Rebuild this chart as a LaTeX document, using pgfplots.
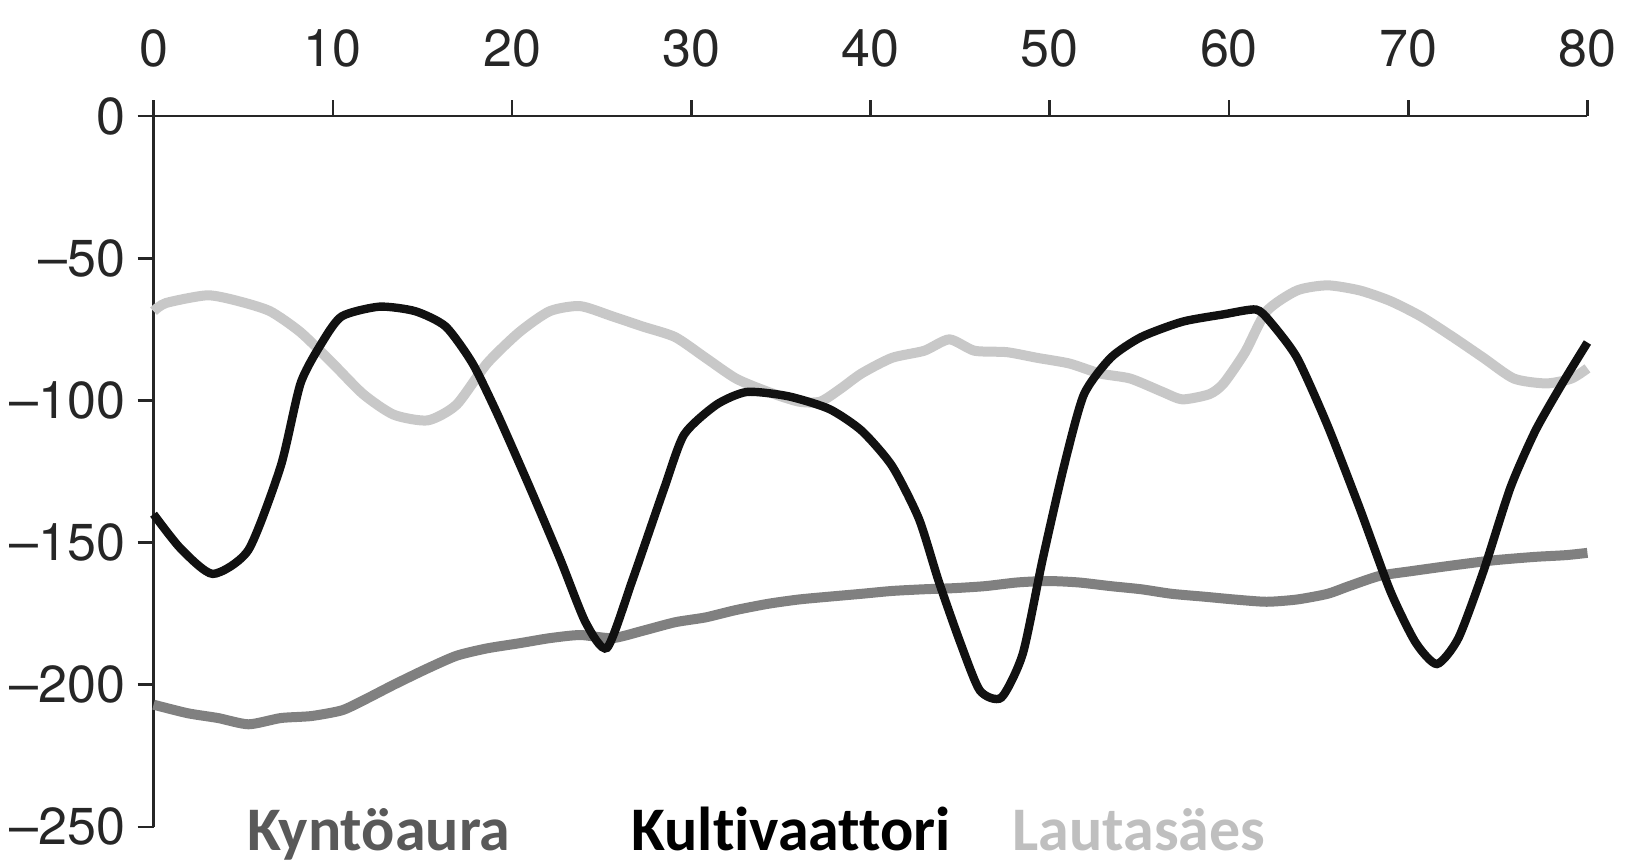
\documentclass[border=0pt]{standalone}
\usepackage{pgfplots}
\pgfplotsset{compat=1.18}
\usepackage{fontspec}
\setmainfont{TeX Gyre Heros}
\newfontfamily\labelfont{Carlito}[Ligatures=NoCommon]

\definecolor{kyntoline}{HTML}{808080}
\definecolor{kyntotext}{HTML}{595959}
\definecolor{lautaline}{HTML}{C8C8C8}
\definecolor{lautatext}{HTML}{BFBFBF}
\definecolor{kultiline}{HTML}{111111}

\begin{document}
\begin{tikzpicture}
\begin{axis}[
  scale only axis,
  width=717pt, height=355.4pt,
  xmin=0, xmax=80, ymin=-250, ymax=0,
  axis x line=top, axis y line=left,
  axis line style={-, line width=1.3pt, black!85},
  tick style={line width=1.3pt, black!85},
  tick align=outside,
  major tick length=8pt,
  xtick={0,10,...,80},
  ytick={-250,-200,-150,-100,-50,0},
  yticklabels={\textendash250,\textendash200,\textendash150,\textendash100,\textendash50,0},
  ticklabel style={font=\fontsize{26}{26}\selectfont, text=black!85},
  xticklabel style={yshift=13pt},
  yticklabel style={xshift=-2.5pt},
  /pgf/number format/assume math mode=true,
  clip=false,
]
% Kyntöaura
\addplot[kyntoline, line width=5pt, smooth, tension=0.4] coordinates {
(0,-207) (1.9,-210) (3.6,-211.7) (5.3,-213.9) (7.1,-211.7) (8.8,-211) (10.5,-209)
(11.7,-205.5) (13.4,-200) (15.2,-194.5) (16.9,-189.8) (18.6,-187.2) (20.4,-185.4)
(22.1,-183.6) (23.8,-182.5) (25.6,-183.6) (27.3,-181) (29.1,-178) (30.8,-176.3)
(32.5,-173.7) (34.3,-171.5) (36,-170) (37.7,-169) (39.5,-168) (41.2,-167)
(43,-166.4) (44.7,-166) (46.4,-165.3) (48.2,-164) (49.9,-163.5) (51.6,-164)
(53.4,-165.3) (55.1,-166.4) (56.8,-168) (58.6,-169) (60.3,-170) (62.1,-170.8)
(63.8,-170) (65.5,-168) (66.7,-165.3) (68.4,-161.7) (70.2,-160) (72.5,-158)
(74.8,-156.2) (77.1,-155) (78.8,-154.4) (80,-153.6)
};
% Lautasäes
\addplot[lautaline, line width=5pt, smooth, tension=0.4] coordinates {
(0,-68.6) (0.7,-65.7) (3,-63) (4.7,-65) (6.5,-68.6) (8.2,-76) (10,-87) (11.7,-97.8)
(13.4,-105) (15.3,-107) (16.9,-101.5) (18.6,-87) (20.4,-76) (22.1,-68.6) (23.8,-66.8)
(25.6,-70.4) (27.3,-74) (29.1,-77.7) (30.8,-85) (32.5,-92.3) (34.3,-97) (36,-100.4)
(37.2,-100.4) (38.3,-96) (39.5,-90.5) (41.2,-85) (43,-82.5) (44.4,-78.5) (45.8,-82.5)
(47.6,-83) (49.3,-85) (51.1,-87) (52.8,-90.5) (54.5,-92.3) (56.3,-97) (57.4,-99.6)
(58.9,-97.8) (59.7,-94) (60.9,-83) (62.1,-68.6) (63.8,-61.3) (65.5,-59.5) (67.3,-61.3)
(69,-65) (70.7,-70.4) (72.5,-77.7) (74.2,-85) (75.9,-92.3) (77.7,-94) (79.1,-92.3)
(80,-88.7)
};
% Kultivaattori
\addplot[kultiline, line width=4.2pt, smooth, tension=0.4] coordinates {
(0,-140) (1.5,-152) (3.3,-161) (5.3,-152.5) (7.1,-123) (8.2,-94) (9.4,-79.6)
(10.5,-70.4) (12.6,-67) (14.6,-68.6) (16.3,-74) (17.8,-87) (19.2,-105) (21,-130.7)
(22.7,-156) (24.1,-178) (25.3,-187) (26.7,-163.5) (28.5,-130.7) (29.6,-112)
(31.4,-101.5) (33.1,-97) (35.4,-98.5) (37.7,-103) (39.5,-110.6) (41.2,-123)
(42.7,-141.6) (43.8,-163.5) (45,-185) (46.1,-202) (47.3,-204.5) (48.5,-189)
(49.6,-156) (50.8,-123) (51.9,-98) (53.4,-85) (55.1,-77.7) (57.4,-72.3) (59.7,-69.7)
(61.5,-68) (62.3,-72.3) (63.8,-85) (65.5,-108.8) (67.3,-138) (69,-167) (70.4,-185)
(71.6,-192.7) (72.8,-183.6) (74.2,-160) (75.7,-130.7) (77.1,-110.6) (78.6,-94)
(80,-79.6)
};
\node[anchor=base west, inner sep=0pt, text=kyntotext,
      font=\labelfont\bfseries\fontsize{31}{31}\selectfont] at (axis cs:5.21,-258.2) {Kyntöaura};
\node[anchor=base west, inner sep=0pt, text=black,
      font=\labelfont\bfseries\fontsize{31}{31}\selectfont] at (axis cs:26.63,-258.2) {Kultivaattori};
\node[anchor=base west, inner sep=0pt, text=lautatext,
      font=\labelfont\bfseries\fontsize{31}{31}\selectfont] at (axis cs:47.9,-258.2) {Lautasäes};
\coordinate (bbl) at (rel axis cs:-0.1071,-0.0521);
\coordinate (btr) at (rel axis cs:1.0276,1.1635);
\end{axis}
\pgfresetboundingbox
\path[use as bounding box] (bbl) rectangle (btr);
\end{tikzpicture}
\end{document}
